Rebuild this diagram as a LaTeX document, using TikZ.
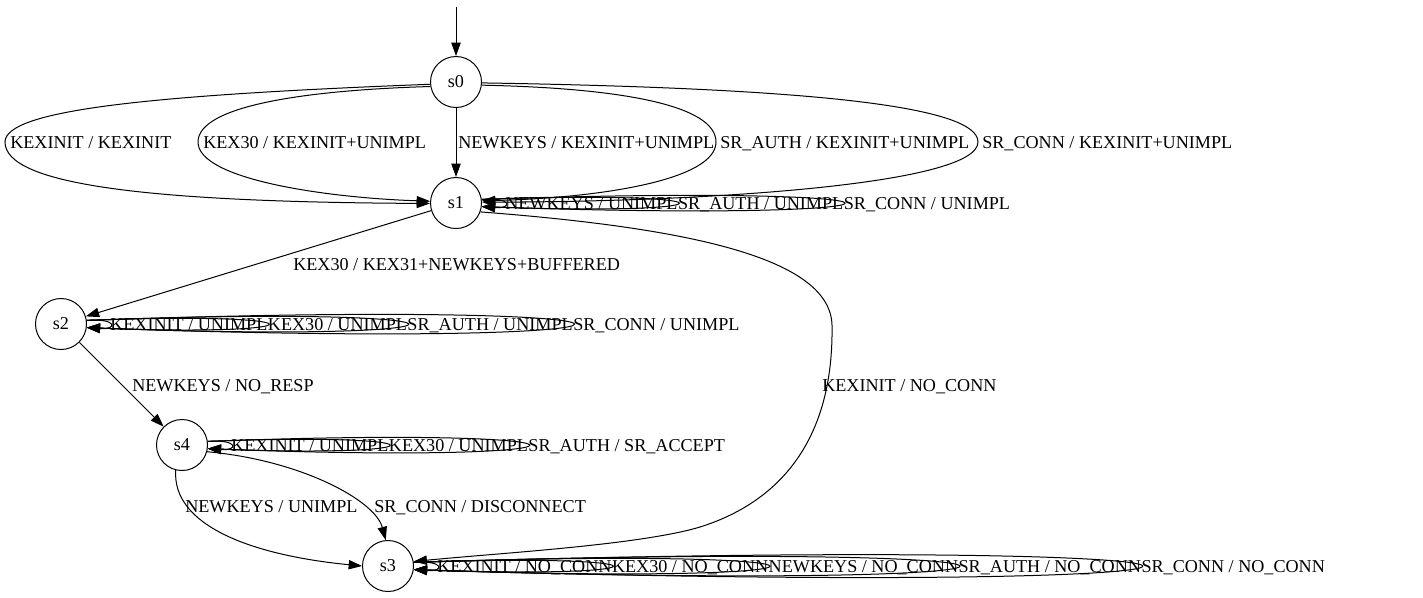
\documentclass[tikz,border=0pt]{standalone}
\usepackage{fontspec}
\setmainfont{Liberation Serif}
\usetikzlibrary{arrows.meta,calc}
\newcommand\myloop[3]{\draw[edge] (#1.8) .. controls ($(#1.east)!1.3333!(#2.west)+(0,-#3)$) and ($(#1.east)!1.3333!(#2.west)+(0,#3)$) .. (#1.-8);}
\begin{document}
\begin{tikzpicture}[x=0.75pt,y=-0.75pt,
  state/.style={circle,draw,line width=0.75pt,minimum size=38.25pt,inner sep=0pt,font=\fontsize{13.6}{16}\selectfont},
  lbl/.style={anchor=west,inner sep=0pt,text height=9pt,text depth=0pt,font=\fontsize{13.6}{16}\selectfont},
  edge/.style={line width=0.75pt,-{Triangle[length=10pt,width=7pt]}}]
\useasboundingbox (0,0) rectangle (1423,597);

\node[state] (s0) at (456,82) {s0};
\node[state] (s1) at (456,203) {s1};
\node[state] (s2) at (61,324) {s2};
\node[state] (s4) at (182,445) {s4};
\node[state] (s3) at (388,566) {s3};
\coordinate (init) at (456,7);

\draw[edge] (init) -- (s0);

% s0 -> s1
\draw[edge] (s0.185) .. controls (150,95) and (5,110) .. (5,142) .. controls (5,185) and (150,202) .. (s1.181);
\node[lbl] (e1) at (10,142) {KEXINIT / KEXINIT};
\draw[edge] (s0.190) .. controls (310,90) and (198,105) .. (198,142) .. controls (198,180) and (330,198) .. (s1.176);
\node[lbl] (e2) at (203,142) {KEX30 / KEXINIT+UNIMPL};
\draw[edge] (s0) -- (s1);
\node[lbl] (e3) at (458,142) {NEWKEYS / KEXINIT+UNIMPL};
\draw[edge] (s0.-7) .. controls (620,88) and (716,105) .. (716,142) .. controls (716,180) and (600,198) .. (s1.5);
\node[lbl] (e4) at (720,142) {SR\_AUTH / KEXINIT+UNIMPL};
\draw[edge] (s0.-2) .. controls (800,88) and (978,105) .. (978,142) .. controls (978,185) and (700,202) .. (s1.2);
\node[lbl] (e5) at (982,142) {SR\_CONN / KEXINIT+UNIMPL};

% s1 loops
\node[lbl] (a1) at ($(s1.east)+(23,0)$) {NEWKEYS / UNIMPL};
\node[lbl] (a2) at (a1.east) {SR\_AUTH / UNIMPL};
\node[lbl] (a3) at (a2.east) {SR\_CONN / UNIMPL};
\myloop{s1}{a1}{6}
\myloop{s1}{a2}{13}
\myloop{s1}{a3}{20}

% s1 -> s2
\draw[edge] (s1) -- (s2);
\node[lbl] (e6) at (293,264) {KEX30 / KEX31+NEWKEYS+BUFFERED};

% s1 -> s3
\draw[edge] (s1.-20) .. controls (690,228) and (830,258) .. (832,325)
  .. controls (834,450) and (770,505) .. (700,527)
  .. controls (640,545) and (500,553) .. (s3.10);
\node[lbl] (e7) at (822,385) {KEXINIT / NO\_CONN};

% s2 loops
\node[lbl] (b1) at ($(s2.east)+(23,0)$) {KEXINIT / UNIMPL};
\node[lbl] (b2) at (b1.east) {KEX30 / UNIMPL};
\node[lbl] (b3) at (b2.east) {SR\_AUTH / UNIMPL};
\node[lbl] (b4) at (b3.east) {SR\_CONN / UNIMPL};
\myloop{s2}{b1}{6}
\myloop{s2}{b2}{13}
\myloop{s2}{b3}{20}
\myloop{s2}{b4}{27}

% s2 -> s4
\draw[edge] (s2) -- (s4);
\node[lbl] (e8) at (132,385) {NEWKEYS / NO\_RESP};

% s4 loops
\node[lbl] (d1) at ($(s4.east)+(23,0)$) {KEXINIT / UNIMPL};
\node[lbl] (d2) at (d1.east) {KEX30 / UNIMPL};
\node[lbl] (d3) at (d2.east) {SR\_AUTH / SR\_ACCEPT};
\myloop{s4}{d1}{6}
\myloop{s4}{d2}{13}
\myloop{s4}{d3}{20}

% s4 -> s3
\draw[edge] (s4.-104) .. controls (172,525) and (250,555) .. (s3.west);
\node[lbl] (e9) at (185,506) {NEWKEYS / UNIMPL};
\draw[edge] (s4.-15) .. controls (300,460) and (375,500) .. (s3.95);
\node[lbl] (e10) at (374,506) {SR\_CONN / DISCONNECT};

% s3 loops
\node[lbl] (c1) at ($(s3.east)+(23,0)$) {KEXINIT / NO\_CONN};
\node[lbl] (c2) at (c1.east) {KEX30 / NO\_CONN};
\node[lbl] (c3) at (c2.east) {NEWKEYS / NO\_CONN};
\node[lbl] (c4) at (c3.east) {SR\_AUTH / NO\_CONN};
\node[lbl] (c5) at (c4.east) {SR\_CONN / NO\_CONN};
\myloop{s3}{c1}{6}
\myloop{s3}{c2}{13}
\myloop{s3}{c3}{20}
\myloop{s3}{c4}{27}
\myloop{s3}{c5}{33}
\end{tikzpicture}
\end{document}
